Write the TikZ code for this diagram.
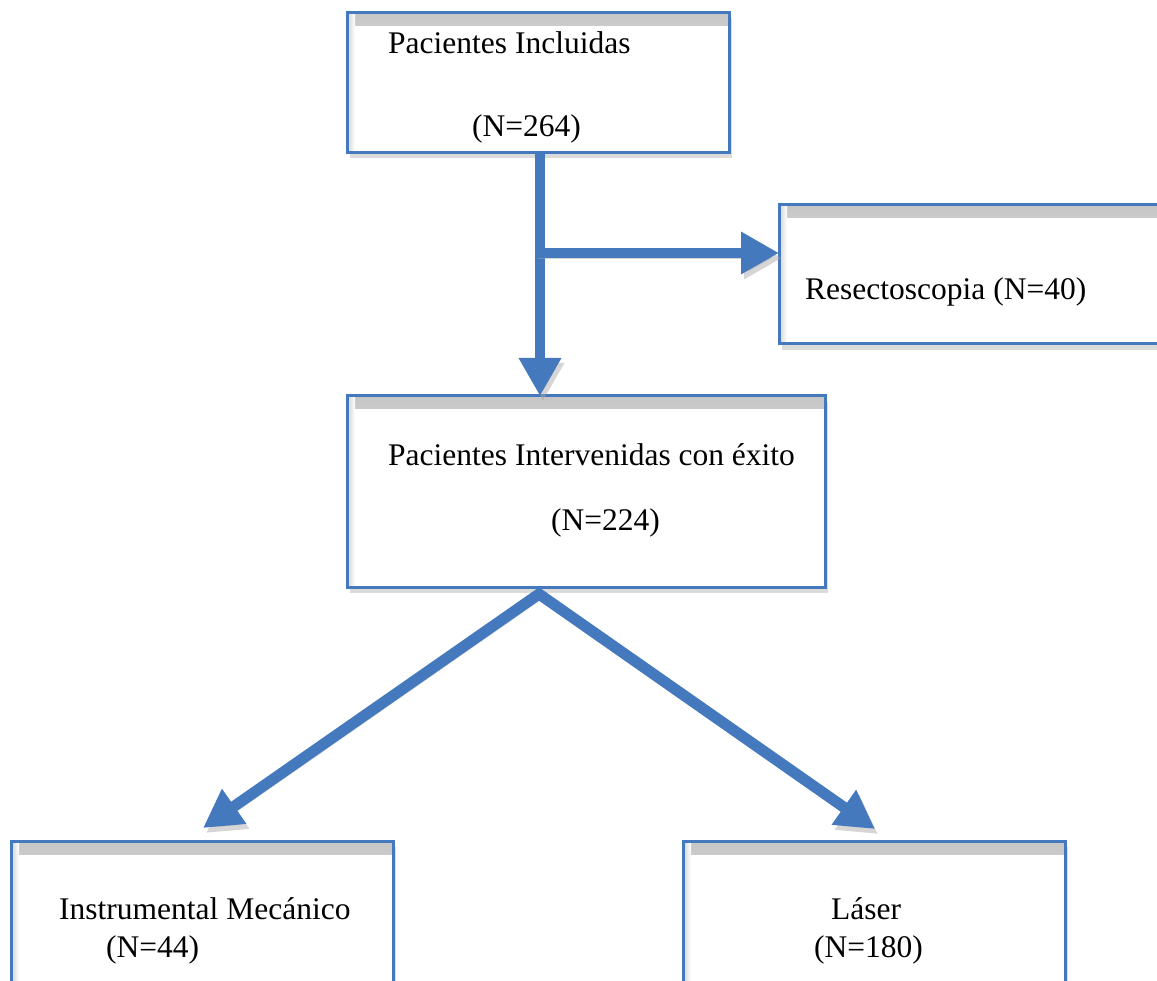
\documentclass[tikz,border=0pt]{standalone}
\usepackage{fontspec}
\setmainfont{Liberation Serif}
\usetikzlibrary{arrows.meta,shadows,calc}
\definecolor{flowblue}{RGB}{68,121,190}
\tikzset{
  bigtip/.tip={Triangle[length=38pt,width=40pt]},
  box/.style={draw=flowblue, line width=3pt, fill=white, inner sep=0pt, outer sep=0pt,
    drop shadow={shadow xshift=3pt, shadow yshift=-6pt, fill=gray!55, opacity=.5},
    path picture={
      \shade[top color=gray!45, bottom color=white] (path picture bounding box.north west) rectangle ([yshift=-13pt]path picture bounding box.north east);
      \shade[left color=gray!35, right color=white] (path picture bounding box.north west) rectangle ([xshift=8pt]path picture bounding box.south west);
    }},
  lbl/.style={anchor=base west, inner sep=0pt, font=\fontsize{31.5}{36}\selectfont},
  flow/.style={line width=10pt, draw=flowblue, line join=miter,
    preaction={draw=gray!70, opacity=.45, transform canvas={shift={(3pt,-5pt)}}}}
}
\begin{document}
\begin{tikzpicture}[x=1pt,y=-1pt]
\clip (0,0) rectangle (1157,981);
\fill[white] (0,0) rectangle (1157,981);

% boxes
\node[box, minimum width=382pt, minimum height=140pt] (top) at (538,82.5) {};
\node[box, minimum width=390pt, minimum height=139pt] (res) at (974,274.5) {};
\node[box, minimum width=478pt, minimum height=191pt] (mid) at (586,491.5) {};
\node[box, minimum width=382pt, minimum height=170pt] (bl) at (202,926) {};
\node[box, minimum width=382pt, minimum height=170pt] (br) at (874,926) {};

% labels
\node[lbl] (t1) at (388,54) {Pacientes Incluidas};
\node[lbl] (t2) at (472,137) {(N=264)};
\node[lbl] (r1) at (805,300) {Resectoscopia (N=40)};
\node[lbl] (m1) at (388,465) {Pacientes Intervenidas con éxito};
\node[lbl] (m2) at (551,530) {(N=224)};
\node[lbl] (b1) at (59,919) {Instrumental Mecánico};
\node[lbl] (b2) at (106,957) {(N=44)};
\node[lbl] (c1) at (831,919) {Láser};
\node[lbl] (c2) at (814,957) {(N=180)};

% connectors
\coordinate (jx) at (540,253);
\coordinate (apex) at (539,594);
\coordinate (tipL) at (203,828);
\coordinate (tipR) at (875,829);

\draw[flow, -{bigtip}] (top.south -| jx) -- (mid.north -| jx);
\draw[flow, -{bigtip}] ([xshift=-5pt]jx) -- (res.west |- jx);
\draw[flow, line width=11pt, {bigtip}-{bigtip}] (tipL) -- (apex) -- (tipR);
\end{tikzpicture}
\end{document}
